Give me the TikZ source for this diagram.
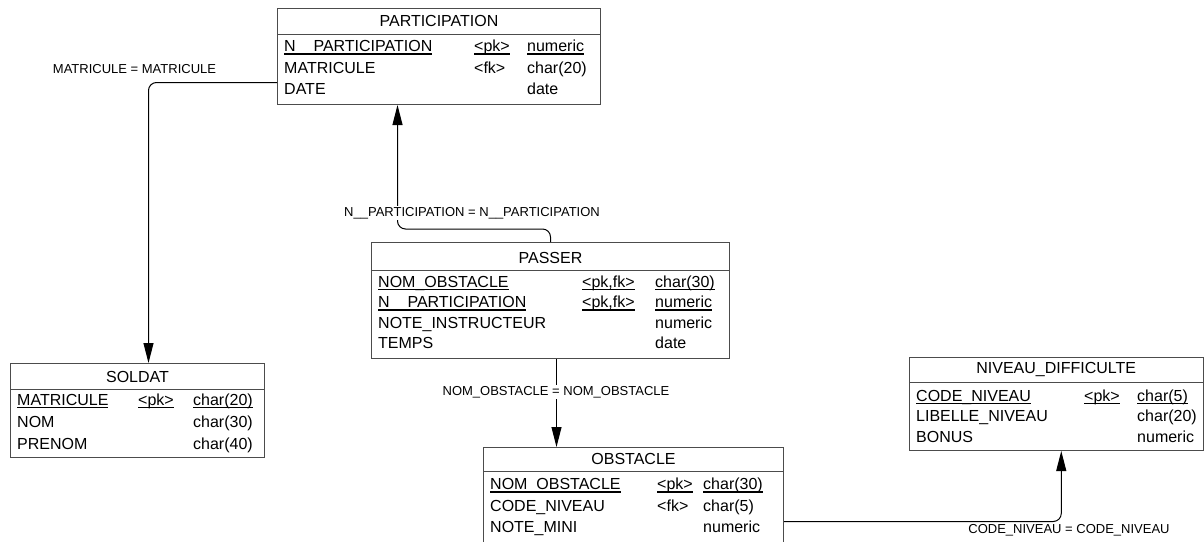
\documentclass[tikz,border=0pt]{standalone}
\usepackage{fontspec}
\setmainfont{Liberation Sans}
\usetikzlibrary{arrows.meta, positioning, calc}

% underline for key columns, fixed depth
\newcommand\pkul[1]{\setbox0\hbox{#1}\rlap{\rule[-3pt]{\wd0}{1.1pt}}\box0}

\begin{document}
\begin{tikzpicture}[x=1pt, y=1pt,
  tbl/.style={draw=black!70, line width=1pt, fill=white, anchor=north west, inner sep=0pt},
  sepline/.style={draw=black!70, line width=0.9pt},
  cell/.style={anchor=base west, inner sep=0pt, font=\fontsize{16}{19}\selectfont},
  ttl/.style={inner sep=0pt, font=\fontsize{16}{19}\selectfont},
  lbl/.style={inner sep=1pt, font=\fontsize{13}{15}\selectfont},
  fkline/.style={draw=black, line width=1pt, rounded corners=8pt, -{Triangle[length=20pt,width=10pt]}}]

\path[use as bounding box, clip] (0,0) rectangle (1204,-541);

% tables
\node[tbl, minimum width=323, minimum height=96] (part) at (277,-8) {};
\node[ttl] (part-title) at ([yshift=-13]part.north) {PARTICIPATION};
\draw[sepline] ([yshift=-26]part.north west) -- ([yshift=-26]part.north east);
\foreach \yy/\col/\key/\typ [count=\i] in {51.5/{\pkul{N\_\_PARTICIPATION}}/{\pkul{<pk>}}/{\pkul{numeric}},
    73/MATRICULE/<fk>/char(20), 94.5/DATE/{}/date} {
  \node[cell] (part-n\i) at (284,-\yy) {\col};
  \node[cell] (part-k\i) at (474,-\yy) {\key};
  \node[cell] (part-t\i) at (527,-\yy) {\typ};
}

\node[tbl, minimum width=254, minimum height=94] (soldat) at (10,-363) {};
\node[ttl] (soldat-title) at ([yshift=-14]soldat.north) {SOLDAT};
\draw[sepline] ([yshift=-26]soldat.north west) -- ([yshift=-26]soldat.north east);
\foreach \yy/\col/\key/\typ [count=\i] in {405/{\pkul{MATRICULE}}/{\pkul{<pk>}}/{\pkul{char(20)}},
    427/NOM/{}/char(30), 449/PRENOM/{}/char(40)} {
  \node[cell] (soldat-n\i) at (17,-\yy) {\col};
  \node[cell] (soldat-k\i) at (138,-\yy) {\key};
  \node[cell] (soldat-t\i) at (193,-\yy) {\typ};
}

\node[tbl, minimum width=358, minimum height=116] (passer) at (371,-242) {};
\node[ttl] (passer-title) at ([yshift=-16]passer.north) {PASSER};
\draw[sepline] ([yshift=-28]passer.north west) -- ([yshift=-28]passer.north east);
\foreach \yy/\col/\key/\typ [count=\i] in {287/{\pkul{NOM\_OBSTACLE}}/{\pkul{<pk,fk>}}/{\pkul{char(30)}},
    307.5/{\pkul{N\_\_PARTICIPATION}}/{\pkul{<pk,fk>}}/{\pkul{numeric}},
    328/NOTE\_INSTRUCTEUR/{}/numeric, 348.5/TEMPS/{}/date} {
  \node[cell] (passer-n\i) at (378,-\yy) {\col};
  \node[cell] (passer-k\i) at (582,-\yy) {\key};
  \node[cell] (passer-t\i) at (655,-\yy) {\typ};
}

\node[tbl, minimum width=300, minimum height=120] (obst) at (483,-447) {};
\node[ttl] (obst-title) at ([yshift=-12]obst.north) {OBSTACLE};
\draw[sepline] ([yshift=-24]obst.north west) -- ([yshift=-24]obst.north east);
\foreach \yy/\col/\key/\typ [count=\i] in {489.5/{\pkul{NOM\_OBSTACLE}}/{\pkul{<pk>}}/{\pkul{char(30)}},
    511/CODE\_NIVEAU/<fk>/char(5), 532.5/NOTE\_MINI/{}/numeric} {
  \node[cell] (obst-n\i) at (490,-\yy) {\col};
  \node[cell] (obst-k\i) at (657,-\yy) {\key};
  \node[cell] (obst-t\i) at (703,-\yy) {\typ};
}

\node[tbl, minimum width=293.5, minimum height=93] (niv) at (909,-357) {};
\node[ttl] (niv-title) at ([yshift=-12.5]niv.north) {NIVEAU\_DIFFICULTE};
\draw[sepline] ([yshift=-25]niv.north west) -- ([yshift=-25]niv.north east);
\foreach \yy/\col/\key/\typ [count=\i] in {401/{\pkul{CODE\_NIVEAU}}/{\pkul{<pk>}}/{\pkul{char(5)}},
    421.5/LIBELLE\_NIVEAU/{}/char(20), 442/BONUS/{}/numeric} {
  \node[cell] (niv-n\i) at (916,-\yy) {\col};
  \node[cell] (niv-k\i) at (1084,-\yy) {\key};
  \node[cell] (niv-t\i) at (1137,-\yy) {\typ};
}

% references
\draw[fkline] ([yshift=-26]part.west) -| ([xshift=11]soldat.north);
\draw[fkline] (passer.north) -- ++(0,13) -| ([xshift=-41.5]part.south);
\coordinate (nob) at ([xshift=6]passer.south);
\draw[fkline] (nob) -- (nob |- obst.north);
\draw[fkline] ([yshift=-14]obst.east) -| ([xshift=5]niv.south);

\node[lbl] (l-mat) at (134.5,-69) {MATRICULE = MATRICULE};
\node[lbl, fill=white] (l-part) at (472,-213) {N\_\_PARTICIPATION = N\_\_PARTICIPATION};
\node[lbl, fill=white] (l-nom) at (556,-392) {NOM\_OBSTACLE = NOM\_OBSTACLE};
\node[lbl] (l-code) at (1069,-530) {CODE\_NIVEAU = CODE\_NIVEAU};
\end{tikzpicture}
\end{document}
